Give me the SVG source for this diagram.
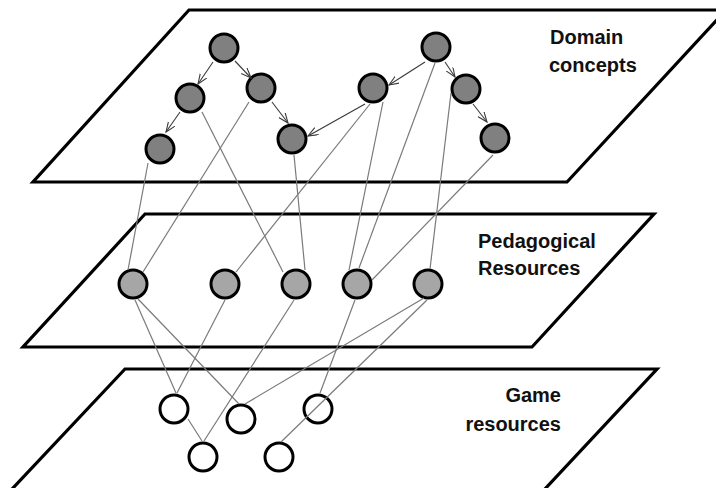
<svg xmlns="http://www.w3.org/2000/svg" width="716" height="488" viewBox="0 0 716 488">
<style>
.plane{fill:#fff;stroke:#000;stroke-width:3.2;stroke-linejoin:miter}
.dc{fill:#808080;stroke:#000;stroke-width:3}
.pr{fill:#a6a6a6;stroke:#000;stroke-width:3}
.gr{fill:#fff;stroke:#000;stroke-width:3}
.link{stroke:#7a7a7a;stroke-width:1.2;fill:none}
.arrow{stroke:#3a3a3a;stroke-width:1.1;fill:none;marker-end:url(#vh)}
.lbl{font-family:"Liberation Sans",Arial,sans-serif;font-weight:bold;font-size:20px;fill:#111}
</style>
<defs>
<marker id="vh" markerUnits="userSpaceOnUse" markerWidth="12" markerHeight="10" refX="10" refY="4" orient="auto" viewBox="0 0 12 10">
<path d="M0,0 L10,4 L0,8" fill="none" stroke="#3a3a3a" stroke-width="1.1"/>
</marker>
</defs>
<rect width="716" height="488" fill="#fff"/>
<g id="planes">
<polygon class="plane" points="189,10 726,10 567,182 33,182"/>
<polygon class="plane" points="145,214 654,214 532,347 23,347"/>
<polygon class="plane" points="125,369 657,369 530,505 -3,505"/>
</g>
<g id="labels">
<text class="lbl" x="550" y="44">Domain</text>
<text class="lbl" x="549" y="72">concepts</text>
<text class="lbl" x="478" y="248">Pedagogical</text>
<text class="lbl" x="478" y="275">Resources</text>
<text class="lbl" x="561" y="402" text-anchor="end">Game</text>
<text class="lbl" x="561" y="431" text-anchor="end">resources</text>
</g>
<g id="domain-concepts">
<g id="dA"><circle class="dc" cx="224" cy="48" r="14"/></g>
<g id="dB"><circle class="dc" cx="190" cy="98" r="14"/></g>
<g id="dC"><circle class="dc" cx="261" cy="88" r="14"/></g>
<g id="dD"><circle class="dc" cx="160" cy="149" r="14"/></g>
<g id="dE"><circle class="dc" cx="292" cy="139" r="14"/></g>
<g id="dF"><circle class="dc" cx="436" cy="47" r="14"/></g>
<g id="dG"><circle class="dc" cx="373" cy="88" r="14"/></g>
<g id="dH"><circle class="dc" cx="466" cy="89" r="14"/></g>
<g id="dI"><circle class="dc" cx="495" cy="138" r="14"/></g>
</g>
<g id="pedagogical-resources">
<g id="p1"><circle class="pr" cx="133" cy="284" r="14"/></g>
<g id="p2"><circle class="pr" cx="225" cy="284" r="14"/></g>
<g id="p3"><circle class="pr" cx="296" cy="284" r="14"/></g>
<g id="p4"><circle class="pr" cx="357" cy="284" r="14"/></g>
<g id="p5"><circle class="pr" cx="428" cy="284" r="14"/></g>
</g>
<g id="game-resources">
<g id="g1"><circle class="gr" cx="174" cy="409" r="14"/></g>
<g id="g2"><circle class="gr" cx="241" cy="419" r="14"/></g>
<g id="g3"><circle class="gr" cx="318" cy="409" r="14"/></g>
<g id="g4"><circle class="gr" cx="203" cy="457" r="14"/></g>
<g id="g5"><circle class="gr" cx="279" cy="457" r="14"/></g>
</g>
<g id="connectors">
<line class="arrow" x1="213" y1="62" x2="198" y2="84"/>
<line class="arrow" x1="235" y1="61" x2="251" y2="78"/>
<line class="arrow" x1="180" y1="112" x2="166" y2="132"/>
<line class="arrow" x1="272" y1="102" x2="288" y2="123"/>
<line class="arrow" x1="365" y1="104" x2="308" y2="136"/>
<line class="arrow" x1="425" y1="62" x2="389" y2="85"/>
<line class="arrow" x1="445" y1="62" x2="455" y2="77"/>
<line class="arrow" x1="473" y1="104" x2="487" y2="122"/>
<line class="link" x1="148" y1="163" x2="128" y2="270"/>
<line class="link" x1="249" y1="102" x2="143" y2="272"/>
<line class="link" x1="202" y1="112" x2="283" y2="272"/>
<line class="link" x1="294" y1="155" x2="305" y2="270"/>
<line class="link" x1="370" y1="104" x2="236" y2="272"/>
<line class="link" x1="383" y1="102" x2="349" y2="270"/>
<line class="link" x1="435" y1="63" x2="359" y2="268"/>
<line class="link" x1="451" y1="93" x2="430" y2="269"/>
<line class="link" x1="493" y1="155" x2="372" y2="280"/>
<line class="link" x1="135" y1="300" x2="176" y2="393"/>
<line class="link" x1="138" y1="299" x2="239" y2="404"/>
<line class="link" x1="225" y1="300" x2="177" y2="393"/>
<line class="link" x1="294" y1="300" x2="204" y2="441"/>
<line class="link" x1="355" y1="300" x2="320" y2="393"/>
<line class="link" x1="424" y1="298" x2="245" y2="404"/>
<line class="link" x1="427" y1="300" x2="281" y2="442"/>
<line class="link" x1="188" y1="419" x2="202" y2="441"/>
</g>
</svg>
